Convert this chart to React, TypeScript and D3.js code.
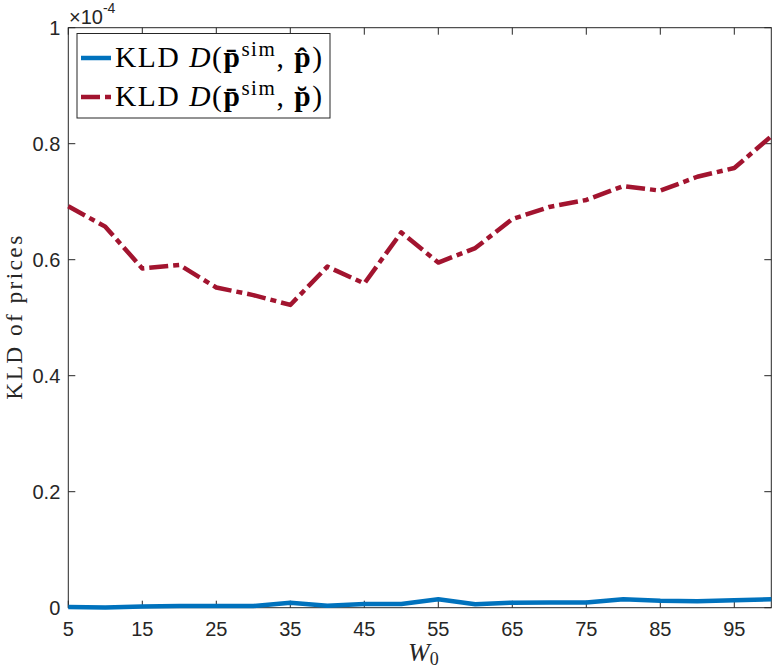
import React from 'react';
import * as d3 from 'd3';

const W0 = [5, 10, 15, 20, 25, 30, 35, 40, 45, 50, 55, 60, 65, 70, 75, 80, 85, 90, 95, 100];
const kldHat = [0.001, 0.0005, 0.002, 0.003, 0.003, 0.003, 0.0086, 0.0035, 0.0064, 0.0062, 0.0145, 0.006, 0.0087, 0.009, 0.009, 0.0145, 0.012, 0.011, 0.0128, 0.0145];
const kldBreve = [0.692, 0.657, 0.585, 0.591, 0.552, 0.539, 0.522, 0.588, 0.559, 0.647, 0.595, 0.62, 0.67, 0.691, 0.703, 0.727, 0.719, 0.743, 0.758, 0.813];
const xTicks = [5, 15, 25, 35, 45, 55, 65, 75, 85, 95];
const yTicks = [0, 0.2, 0.4, 0.6, 0.8, 1];
const yTickLabels = ['0', '0.2', '0.4', '0.6', '0.8', '1'];

const AX = '#262626';
const BLUE = '#0072BD';
const RED = '#A2142F';
const SANS = '"Liberation Sans", Arial, Helvetica, sans-serif';
const SERIF = '"Liberation Serif", "Times New Roman", serif';

export default function App() {
  const width = 781;
  const height = 668;
  const L = 68.3, R = 771.3, T = 27.7, B = 607.7;
  const x = d3.scaleLinear().domain([5, 100]).range([L, R]);
  const y = d3.scaleLinear().domain([0, 1]).range([B, T]);
  const line = d3.line<number>().x((_, i) => x(W0[i])).y((d) => y(d));
  const tl = 7;
  const dash = '19 5 6 5';

  return (
    <svg width={width} height={height} style={{ position: 'absolute', left: 0, top: 0, display: 'block', background: '#fff' }}>
      <rect x={0} y={0} width={width} height={height} fill="#fff" />
      <rect x={L} y={T} width={R - L} height={B - T} fill="none" stroke={AX} strokeWidth={1} />
      {xTicks.map((t) => (
        <g key={'xt' + t}>
          <line x1={x(t)} x2={x(t)} y1={B} y2={B - tl} stroke={AX} />
          <line x1={x(t)} x2={x(t)} y1={T} y2={T + tl} stroke={AX} />
          <text x={x(t)} y={636} textAnchor="middle" fontFamily={SANS} fontSize={20} fill={AX}>{t}</text>
        </g>
      ))}
      {yTicks.map((t, i) => (
        <g key={'yt' + t}>
          <line x1={L} x2={L + tl} y1={y(t)} y2={y(t)} stroke={AX} />
          <line x1={R} x2={R - tl} y1={y(t)} y2={y(t)} stroke={AX} />
          <text x={L - 8} y={y(t) + 7} textAnchor="end" fontFamily={SANS} fontSize={20} fill={AX}>{yTickLabels[i]}</text>
        </g>
      ))}
      <text x={69} y={23.5} fontFamily={SANS} fontSize={20} fill={AX}>
        ×10<tspan dy={-10.5} fontSize={14}>-4</tspan>
      </text>
      <path d={line(kldHat) || ''} fill="none" stroke={BLUE} strokeWidth={4.5} strokeLinejoin="round" />
      <path d={line(kldBreve) || ''} fill="none" stroke={RED} strokeWidth={4.5} strokeDasharray={dash} strokeLinejoin="round" />
      <text transform={`translate(21.5, ${(T + B) / 2}) rotate(-90)`} textAnchor="middle" fontFamily={SERIF} fontSize={23.5} textLength={164} lengthAdjust="spacing" fill={AX}>KLD of prices</text>
      <text x={408} y={661} fontFamily={SERIF} fontSize={26} fill={AX}>
        <tspan fontStyle="italic">W</tspan><tspan fontSize={18} dy={4}>0</tspan>
      </text>
      <rect x={77} y={33.5} width={253} height={84.5} fill="#fff" stroke={AX} strokeWidth={1} />
      <line x1={81} x2={111} y1={58} y2={58} stroke={BLUE} strokeWidth={4.5} />
      <line x1={81} x2={111} y1={97} y2={97} stroke={RED} strokeWidth={4.5} strokeDasharray={dash} />
      <text x={115} y={67} fontFamily={SERIF} fontSize={29.5} textLength={207} lengthAdjust="spacing" fill="#000">
        KLD <tspan fontStyle="italic">D</tspan>(<tspan fontWeight="bold">p̄</tspan><tspan dy={-11} fontSize={21}>sim</tspan><tspan dy={11}>, </tspan><tspan fontWeight="bold">p̂</tspan>)
      </text>
      <text x={115} y={106} fontFamily={SERIF} fontSize={29.5} textLength={207} lengthAdjust="spacing" fill="#000">
        KLD <tspan fontStyle="italic">D</tspan>(<tspan fontWeight="bold">p̄</tspan><tspan dy={-11} fontSize={21}>sim</tspan><tspan dy={11}>, </tspan><tspan fontWeight="bold">p̆</tspan>)
      </text>
    </svg>
  );
}
